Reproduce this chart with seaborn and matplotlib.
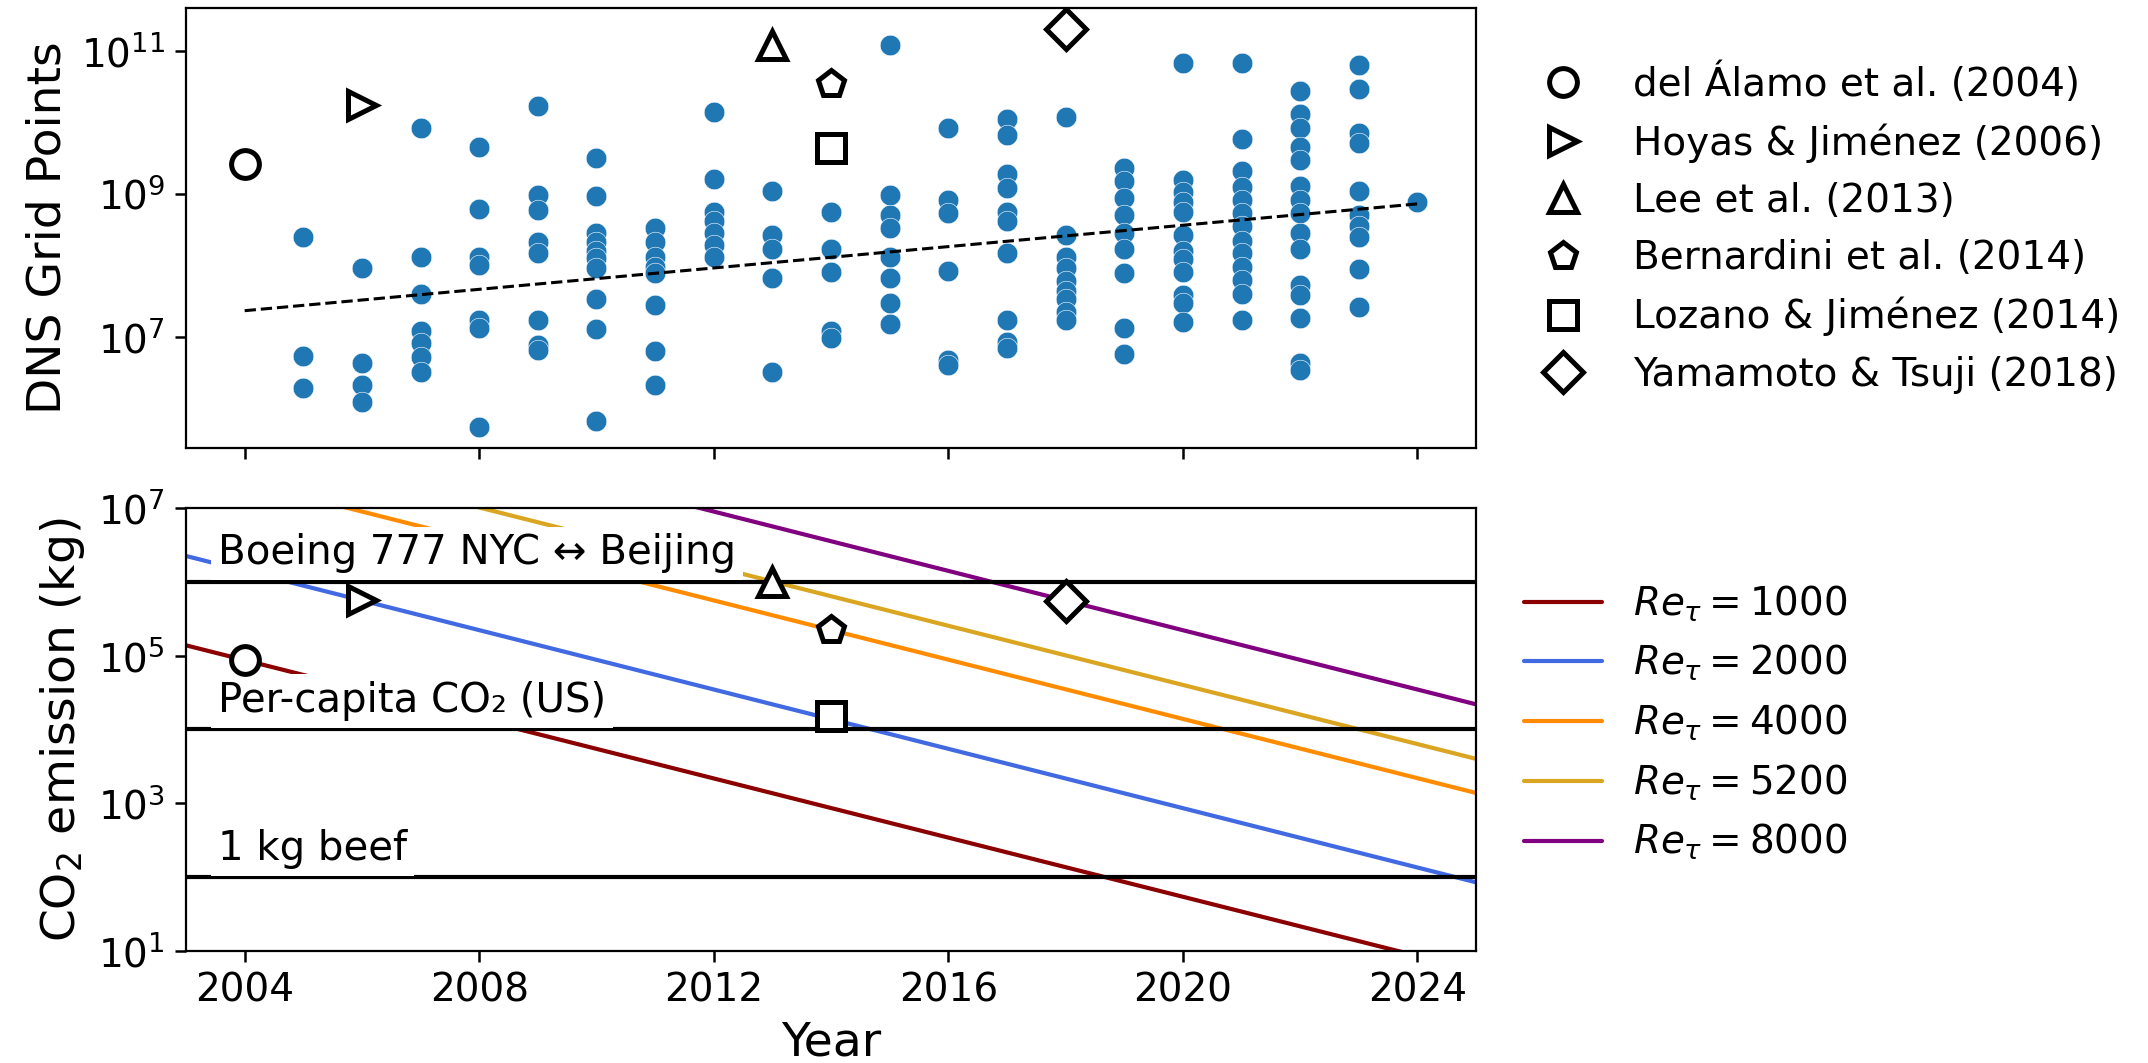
import matplotlib
matplotlib.use("Agg")
import matplotlib.pyplot as plt
import pandas as pd
import seaborn as sns
from matplotlib.ticker import NullLocator

sns.set_style("ticks", {"axes.edgecolor": "black", "xtick.color": "black",
                        "ytick.color": "black", "text.color": "black",
                        "axes.labelcolor": "black"})
plt.rcParams["font.family"] = ["DejaVu Sans"]
plt.rcParams["mathtext.fontset"] = "dejavusans"

# --- top panel: DNS grid sizes per year ---
dns_year = ([2005] * 3 + [2006] * 4 + [2007] * 7 + [2008] * 7 + [2009] * 8
            + [2010] * 10 + [2011] * 8 + [2012] * 7 + [2013] * 5 + [2014] * 5
            + [2015] * 8 + [2016] * 6 + [2017] * 10 + [2018] * 9 + [2019] * 9
            + [2020] * 12 + [2021] * 13 + [2022] * 15 + [2023] * 10 + [2024] * 1)
dns_grid = [
    2.5e8, 5.4e6, 1.9e6,
    9.2e7, 4.2e6, 2.1e6, 1.2e6,
    8.3e9, 1.3e8, 3.9e7, 1.2e7, 8.1e6, 5.2e6, 3.2e6,
    4.5e9, 6.2e8, 1.3e8, 1.0e8, 1.7e7, 1.3e7, 5.4e5,
    1.7e10, 9.5e8, 5.9e8, 2.1e8, 1.5e8, 1.7e7, 7.6e6, 6.5e6,
    3.2e9, 9.3e8, 2.8e8, 2.1e8, 1.6e8, 1.25e8, 9.0e7, 3.4e7, 1.27e7, 6.6e5,
    3.3e8, 2.1e8, 1.3e8, 9.5e7, 7.8e7, 2.8e7, 6.3e6, 2.1e6,
    1.4e10, 1.6e9, 5.6e8, 4.1e8, 2.8e8, 1.9e8, 1.3e8,
    1.1e9, 2.6e8, 1.7e8, 6.7e7, 3.2e6,
    5.6e8, 1.7e8, 8.1e7, 1.2e7, 9.5e6,
    1.2e11, 9.6e8, 5.0e8, 3.3e8, 1.3e8, 6.7e7, 2.9e7, 1.5e7,
    8.4e9, 8.1e8, 5.3e8, 8.4e7, 4.7e6, 4.0e6,
    1.1e10, 6.6e9, 1.9e9, 1.2e9, 5.6e8, 4.1e8, 1.5e8, 1.7e7, 8.5e6, 6.9e6,
    1.2e10, 2.6e8, 1.3e8, 9.0e7, 5.9e7, 4.3e7, 3.3e7, 2.2e7, 1.7e7,
    2.3e9, 1.5e9, 8.6e8, 5.0e8, 2.8e8, 1.7e8, 7.7e7, 1.3e7, 5.7e6,
    6.7e10, 1.55e9, 1.07e9, 7.7e8, 5.6e8, 2.6e8, 1.6e8, 1.2e8, 8.1e7, 3.8e7, 2.9e7, 1.6e7,
    6.7e10, 5.9e9, 2.1e9, 1.25e9, 8.1e8, 5.3e8, 3.5e8, 2.2e8, 1.5e8, 9.5e7, 6.2e7, 4.0e7, 1.7e7,
    2.7e10, 1.3e10, 8.2e9, 4.5e9, 3.0e9, 1.3e9, 8.1e8, 5.3e8, 2.8e8, 1.7e8, 5.3e7, 3.8e7, 1.8e7, 4.2e6, 3.4e6,
    6.3e10, 2.9e10, 7.0e9, 5.1e9, 1.1e9, 5.0e8, 3.5e8, 2.5e8, 8.8e7, 2.6e7,
    7.6e8,
]
trend_years = [2004, 2024]
trend_grid = [2.3e7, 7.2e8]

# landmark simulations
study_labels = ["del Álamo et al. (2004)", "Hoyas & Jiménez (2006)", "Lee et al. (2013)",
                "Bernardini et al. (2014)", "Lozano & Jiménez (2014)", "Yamamoto & Tsuji (2018)"]
study_years = [2004, 2006, 2013, 2014, 2014, 2018]
study_grid = [2.6e9, 1.75e10, 1.2e11, 3.4e10, 4.4e9, 2.0e11]
study_co2 = [8.7e4, 5.7e5, 1.0e6, 2.2e5, 1.5e4, 5.5e5]
study_markers = ["o", ">", "^", "p", "s", "D"]

# --- bottom panel: CO2 cost of a channel DNS at fixed Re_tau ---
re_tau = [1000, 2000, 4000, 5200, 8000]
line_years = [2003, 2025]
co2_2003 = [1.38e5, 2.24e6, 3.58e7, 1.02e8, 5.75e8]
co2_2025 = [5.4, 85.0, 1.38e3, 4.0e3, 2.19e4]
re_colors = ["darkred", "royalblue", "darkorange", "goldenrod", "purple"]

ref_labels = ["Boeing 777 NYC ↔ Beijing", "Per-capita CO₂ (US)", "1 kg beef"]
ref_co2 = [1e6, 1e4, 1e2]

rows = []
for r, a, b in zip(re_tau, co2_2003, co2_2025):
    lab = rf"$Re_\tau = {r}$"
    rows.append({"Year": line_years[0], "CO2": a, "Re": lab})
    rows.append({"Year": line_years[1], "CO2": b, "Re": lab})
df_lines = pd.DataFrame(rows)

fig = plt.figure(figsize=(10.74, 5.315), dpi=200)
ax1 = fig.add_axes([0.0866, 0.5786, 0.6006, 0.4139])
ax2 = fig.add_axes([0.0866, 0.1054, 0.6006, 0.4167], sharex=ax1)

# top
sns.scatterplot(x=dns_year, y=dns_grid, ax=ax1, s=55, color="#1f77b4",
                edgecolor="white", linewidth=0.2, zorder=2)
ax1.plot(trend_years, trend_grid, "k--", lw=1.1, zorder=3)
for yr, g, m, lab in zip(study_years, study_grid, study_markers, study_labels):
    ax1.plot([yr], [g], marker=m, ls="none", ms=10, mfc="white", mec="black",
             mew=1.8, label=lab, zorder=4)
ax1.set_yscale("log")
ax1.set_ylim(10 ** 5.44, 10 ** 11.6)
ax1.set_yticks([1e7, 1e9, 1e11])
ax1.yaxis.set_minor_locator(NullLocator())
ax1.set_ylabel("DNS Grid Points", fontsize=17)
ax1.tick_params(labelbottom=False, labelsize=14, length=4, width=0.9)
ax1.legend(loc="center left", bbox_to_anchor=(1.01, 0.5), frameon=False, fontsize=14)

# bottom
sns.lineplot(data=df_lines, x="Year", y="CO2", hue="Re", palette=re_colors,
             lw=1.5, ax=ax2, zorder=2)
for v in ref_co2:
    ax2.axhline(v, color="black", lw=1.5, zorder=2.5)
for v, lab in zip(ref_co2, ref_labels):
    ax2.text(2003.55, v * 1.3, lab, fontsize=14.5, ha="left", va="bottom", zorder=3,
             bbox=dict(facecolor="white", edgecolor="none", pad=2.5))
for yr, c, m in zip(study_years, study_co2, study_markers):
    ax2.plot([yr], [c], marker=m, ls="none", ms=10, mfc="white", mec="black",
             mew=1.8, zorder=5)
ax2.set_yscale("log")
ax2.set_ylim(10, 1e7)
ax2.set_yticks([1e1, 1e3, 1e5, 1e7])
ax2.yaxis.set_minor_locator(NullLocator())
ax2.set_xlim(2003, 2025)
ax2.set_xticks([2004, 2008, 2012, 2016, 2020, 2024])
ax2.set_xlabel("Year", fontsize=17)
ax2.set_ylabel("CO$_2$ emission (kg)", fontsize=17)
ax2.tick_params(labelsize=14, length=4, width=0.9)
ax2.legend(loc="center left", bbox_to_anchor=(1.01, 0.515), frameon=False, fontsize=14)

fig.savefig("out.png", dpi=200)
